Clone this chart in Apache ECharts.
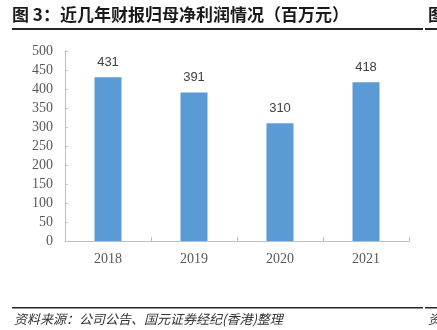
<!DOCTYPE html>
<html>
<head>
<meta charset="utf-8">
<script src="https://cdn.jsdelivr.net/npm/echarts@6/dist/echarts.min.js"></script>
<style>
html, body { margin: 0; padding: 0; background: #fff; }
#chart { width: 437px; height: 330px; }
</style>
</head>
<body>
<div id="chart"></div>
<script>
// Net profit attributable to parent, millions
const years = ['2018', '2019', '2020', '2021'];
const netProfit = [431, 391, 310, 418];
const yTicks = [0, 50, 100, 150, 200, 250, 300, 350, 400, 450, 500];

const titleText = '图 3：近几年财报归母净利润情况（百万元）';
const sourceText = '资料来源：公司公告、国元证券经纪(香港)整理';

const chart = echarts.init(document.getElementById('chart'), null, { renderer: 'canvas' });

const axisGrey = '#bfbfbf';
const labelGrey = '#595959';
const serif = '"Liberation Serif", "Times New Roman", serif';

chart.setOption({
  animation: false,
  backgroundColor: '#ffffff',
  grid: { left: 65, right: 28, top: 51, bottom: 89 },
  xAxis: {
    type: 'category',
    data: years,
    boundaryGap: true,
    axisLine: { lineStyle: { color: axisGrey, width: 1 } },
    axisTick: { show: true, inside: true, length: 4, lineStyle: { color: axisGrey } },
    axisLabel: { color: labelGrey, fontFamily: serif, fontSize: 14, margin: 11 }
  },
  yAxis: {
    type: 'value',
    min: yTicks[0],
    max: yTicks[yTicks.length - 1],
    interval: 50,
    axisLine: { show: true, lineStyle: { color: axisGrey, width: 1 } },
    axisTick: { show: true, inside: true, length: 3, lineStyle: { color: axisGrey } },
    splitLine: { show: false },
    axisLabel: { color: labelGrey, fontFamily: serif, fontSize: 14, margin: 12 }
  },
  series: [{
    type: 'bar',
    data: netProfit,
    barWidth: 27,
    itemStyle: { color: '#5b9bd5' },
    label: {
      show: true,
      position: 'top',
      distance: 8,
      color: '#404040',
      fontSize: 13,
      fontFamily: '"Liberation Sans", Arial, sans-serif'
    }
  }],
  graphic: [
    {
      type: 'text', left: 12, top: 6,
      style: {
        text: titleText,
        font: 'bold 17px "Noto Sans CJK SC", sans-serif',
        fill: '#1a1a1a'
      }
    },
    {
      type: 'text', left: 428, top: 6,
      style: { text: '图', font: 'bold 17px "Noto Sans CJK SC", sans-serif', fill: '#1a1a1a' }
    },
    { type: 'rect', shape: { x: 12, y: 28, width: 411, height: 2 }, style: { fill: '#262626' } },
    { type: 'rect', shape: { x: 425, y: 28, width: 12, height: 2 }, style: { fill: '#262626' } },
    { type: 'rect', shape: { x: 12, y: 307, width: 411, height: 1.5 }, style: { fill: '#262626' } },
    { type: 'rect', shape: { x: 425, y: 307, width: 12, height: 1.5 }, style: { fill: '#262626' } },
    {
      type: 'text', left: 14, top: 313,
      style: {
        text: sourceText,
        font: 'italic 13px "Noto Sans CJK SC", sans-serif',
        fill: '#333333'
      }
    },
    {
      type: 'text', left: 428, top: 313,
      style: { text: '资', font: 'italic 13px "Noto Sans CJK SC", sans-serif', fill: '#333333' }
    }
  ]
});
</script>
</body>
</html>
